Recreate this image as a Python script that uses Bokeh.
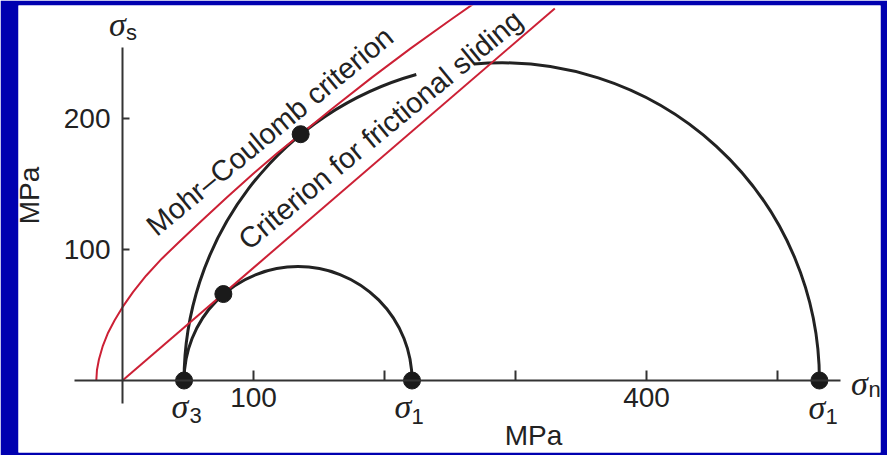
import numpy as np
from bokeh.plotting import figure
from bokeh.models import Range1d, LinearAxis, FixedTicker
from bokeh.core.properties import value
from bokeh.embed import file_html
from bokeh.resources import INLINE

# ---------------- data (MPa) ----------------
sigma3 = 47.0            # confining stress, shared by both circles
sigma1_small = 221.0     # sigma1 for frictional sliding
sigma1_large = 532.0     # sigma1 for fracture of intact rock
big_arc_gap_deg = [95.0, 105.6]   # gap in the big circle (where the labels run)

friction_s = [0.0, 330.0]          # criterion for frictional sliding
friction_t = [0.0, 284.0]

env_s = [-20.0, -19.5, -18.0, -15.0, -11.0, -6.0, 0.0, 8.0, 18.0, 30.0, 44.0,
         60.0, 80.0, 100.0, 118.0, 136.0, 160.0, 190.0, 220.0, 250.0, 275.0]
env_t = [0.0, 8.0, 16.0, 26.5, 36.5, 46.0, 56.0, 67.5, 80.0, 93.0, 106.5,
         121.5, 140.0, 158.0, 173.5, 188.0, 207.5, 231.0, 253.5, 275.0, 292.5]

pts_s = [47.0, 221.0, 532.0, 77.0, 136.0]
pts_t = [0.0, 0.0, 0.0, 66.0, 188.0]

x_ticks = [100, 200, 300, 400, 500]
x_tick_labels = {100: "100", 200: "", 300: "", 400: "400", 500: ""}
y_ticks = [100, 200]

# ---------------- figure ----------------
W, H = 887, 455
p = figure(width=W, height=H, output_backend="svg", toolbar_location=None,
           x_range=Range1d(-79.39, 578.63), y_range=Range1d(-54.96, 286.26),
           x_axis_location=None, y_axis_location=None,
           min_border_left=18, min_border_right=7, min_border_top=5, min_border_bottom=3)
p.grid.visible = False
p.outline_line_color = None
p.background_fill_color = "white"
p.border_fill_color = "#0000b0"

INK = "#222222"
RED = "#cc2035"
SANS = "Liberation Sans"
SERIF = "Liberation Serif"

# axes through origin
xaxis = LinearAxis(fixed_location=0, ticker=FixedTicker(ticks=x_ticks), bounds=(-37, 548),
                   major_label_overrides=x_tick_labels)
yaxis = LinearAxis(fixed_location=0, ticker=FixedTicker(ticks=y_ticks), bounds=(-17.6, 254))
for ax in (xaxis, yaxis):
    ax.axis_line_color = "#333333"
    ax.axis_line_width = 2
    ax.major_tick_line_color = "#333333"
    ax.major_tick_line_width = 2
    ax.major_tick_out = 0
    ax.minor_tick_line_color = None
    ax.major_label_text_font = SANS
    ax.major_label_text_font_size = "28px"
    ax.major_label_text_color = INK
xaxis.major_tick_in = 10
xaxis.major_label_standoff = 7
yaxis.major_tick_in = 7
yaxis.major_label_standoff = 12
p.add_layout(xaxis, "below")
p.add_layout(yaxis, "left")

# Mohr circles
c_small = (sigma3 + sigma1_small) / 2
r_small = (sigma1_small - sigma3) / 2
c_big = (sigma3 + sigma1_large) / 2
r_big = (sigma1_large - sigma3) / 2
p.arc(x=[c_small], y=[0], radius=r_small, start_angle=0, end_angle=np.pi,
      line_color=INK, line_width=3)
p.arc(x=[c_big, c_big], y=[0, 0], radius=r_big,
      start_angle=[0, np.radians(big_arc_gap_deg[1])],
      end_angle=[np.radians(big_arc_gap_deg[0]), np.pi],
      line_color=INK, line_width=3)

# criteria
p.line(env_s, env_t, line_color=RED, line_width=2)
p.line(friction_s, friction_t, line_color=RED, line_width=2)

# points
p.scatter(pts_s, pts_t, size=17, color="#1a1a1a")

def px2d(px, py):
    return (px - 122) / 1.31, (380 - py) / 1.31

def label(txt, px, py, font, size, angle=0.0, align="center", baseline="middle", style="normal"):
    x, y = px2d(px, py)
    p.text(x=[x], y=[y], text=[txt], text_font=value(font), text_font_size=size,
           text_color=INK, text_align=align, text_baseline=baseline, angle=angle,
           text_font_style=style)

# sigma labels
for (sx, sy, sub, bx, by) in [(117, 24, "s", 131, 32), (179.5, 406, "3", 195, 415),
                              (402.5, 406, "1", 417, 415.5), (816.5, 407, "1", 831, 415.5),
                              (859, 383, "n", 874, 389)]:
    label("σ", sx, sy, SERIF, "34px", style="italic")
    label(sub, bx, by, SANS, "22px")

# rotated criterion labels
label("Mohr–Coulomb criterion", 150, 229, SANS, "29px", angle=np.radians(39.5),
      align="left", baseline="alphabetic")
label("Criterion for frictional sliding", 242, 243, SANS, "29px", angle=np.radians(39.5),
      align="left", baseline="alphabetic")

# axis unit labels
label("MPa", 29, 195, SANS, "28px", angle=np.pi / 2)
label("MPa", 533, 435, SANS, "28px")

open("out.html", "w").write(file_html(p, INLINE))
